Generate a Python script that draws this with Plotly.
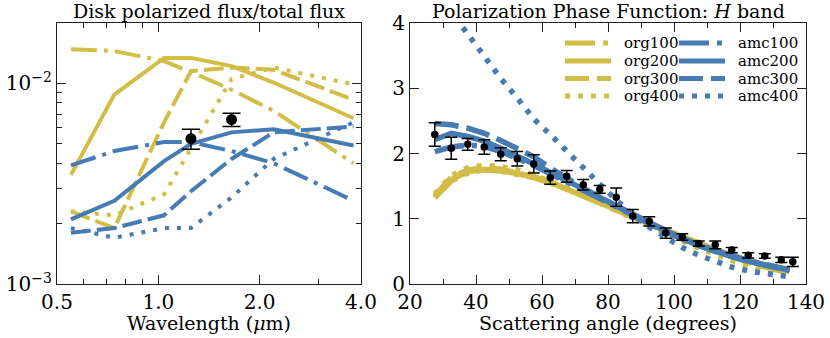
import numpy as np
import plotly.graph_objects as go
from plotly.subplots import make_subplots

# --- left panel: polarized / total flux vs wavelength ---
wave = [0.55, 0.74, 1.04, 1.25, 1.65, 2.2, 3.8]
flux_org100 = [0.0148, 0.0145, 0.0129, 0.0114, 0.0093, 0.0073, 0.0040]
flux_org200 = [0.0035, 0.0088, 0.0134, 0.0134, 0.0122, 0.0101, 0.0067]
flux_org300 = [0.0023, 0.0019, 0.0064, 0.0115, 0.0120, 0.0117, 0.0083]
flux_org400 = [0.0023, 0.0022, 0.0028, 0.0047, 0.0105, 0.0120, 0.0099]
flux_amc100 = [0.0039, 0.0046, 0.0051, 0.0051, 0.0046, 0.0040, 0.0026]
flux_amc200 = [0.0021, 0.0026, 0.0041, 0.0050, 0.0057, 0.0059, 0.0049]
flux_amc300 = [0.0018, 0.0019, 0.0022, 0.0029, 0.0042, 0.0057, 0.0061]
flux_amc400 = [0.0019, 0.0017, 0.0019, 0.0019, 0.0027, 0.0042, 0.0064]

obs_wave = [1.25, 1.65]
obs_flux = [0.0053, 0.0066]
obs_flux_err = [0.0006, 0.0005]

# --- right panel: polarization phase function, H band ---
angle = [27.5, 32.5, 37.5, 42.5, 47.5, 52.5, 57.5, 62.5, 67.5, 72.5, 77.5, 82.5,
         87.5, 92.5, 97.5, 102.5, 107.5, 112.5, 117.5, 122.5, 127.5, 132.5, 135]
pf_org100 = [1.32, 1.58, 1.70, 1.75, 1.73, 1.69, 1.63, 1.55, 1.46, 1.36, 1.25, 1.14,
             1.03, 0.93, 0.83, 0.72, 0.62, 0.53, 0.44, 0.36, 0.29, 0.23, 0.20]
pf_org200 = [1.34, 1.60, 1.72, 1.76, 1.74, 1.70, 1.64, 1.56, 1.46, 1.36, 1.25, 1.14,
             1.03, 0.93, 0.82, 0.71, 0.61, 0.52, 0.43, 0.35, 0.28, 0.22, 0.19]
pf_org300 = [1.36, 1.63, 1.75, 1.78, 1.76, 1.71, 1.64, 1.56, 1.46, 1.35, 1.24, 1.13,
             1.02, 0.92, 0.81, 0.70, 0.60, 0.50, 0.41, 0.33, 0.26, 0.20, 0.17]
pf_org400 = [1.38, 1.66, 1.78, 1.82, 1.80, 1.75, 1.67, 1.58, 1.47, 1.36, 1.24, 1.12,
             1.00, 0.89, 0.77, 0.66, 0.55, 0.45, 0.36, 0.28, 0.21, 0.16, 0.13]
pf_amc100 = [2.03, 2.10, 2.13, 2.11, 2.03, 1.93, 1.82, 1.69, 1.56, 1.44, 1.31, 1.18,
             1.05, 0.93, 0.81, 0.70, 0.60, 0.51, 0.43, 0.36, 0.30, 0.24, 0.22]
pf_amc200 = [2.21, 2.31, 2.26, 2.19, 2.08, 1.97, 1.84, 1.71, 1.58, 1.45, 1.32, 1.19,
             1.06, 0.94, 0.80, 0.69, 0.59, 0.50, 0.42, 0.35, 0.29, 0.23, 0.21]
pf_amc300 = [2.46, 2.44, 2.39, 2.31, 2.20, 2.08, 1.95, 1.78, 1.62, 1.47, 1.33, 1.19,
             1.05, 0.93, 0.80, 0.69, 0.59, 0.50, 0.42, 0.35, 0.29, 0.23, 0.21]
pf_amc400 = [4.60, 4.17, 3.83, 3.48, 3.15, 2.85, 2.53, 2.29, 2.03, 1.77, 1.53, 1.29,
             1.06, 0.87, 0.71, 0.56, 0.44, 0.34, 0.26, 0.20, 0.16, 0.13, 0.11]

obs_angle = [27.5, 32.5, 37.5, 42.5, 47.5, 52.5, 57.5, 62.5, 67.5, 72.5, 77.5, 82.5,
             87.5, 92.5, 97.5, 102.5, 107.5, 112.5, 117.5, 122.5, 127.5, 132.5, 136]
obs_pf = [2.29, 2.08, 2.14, 2.10, 1.99, 1.92, 1.84, 1.63, 1.65, 1.52, 1.45, 1.33,
          1.04, 0.96, 0.78, 0.72, 0.62, 0.60, 0.52, 0.44, 0.43, 0.37, 0.34]
obs_pf_err = [0.18, 0.17, 0.09, 0.11, 0.10, 0.11, 0.14, 0.10, 0.09, 0.08, 0.06, 0.14,
              0.10, 0.07, 0.08, 0.05, 0.04, 0.06, 0.04, 0.04, 0.035, 0.04, 0.07]

names = ["org100", "org200", "org300", "org400", "amc100", "amc200", "amc300", "amc400"]

YELLOW = "#d2bd47"
BLUE = "#467bb4"
AXC = "#222222"
FONT = "DejaVu Serif"

# dash patterns (left panel is drawn thinner than the right one)
dash_left = ["26px,7px,4px,7px", "solid", "20px,6px", "4px,8px"]
dash_right = ["30px,8px,5px,8px", "solid", "24px,8px", "5px,8px"]


def add_models(fig, x, series, col, width, dashes):
    for i, (name, y) in enumerate(zip(names, series)):
        color = YELLOW if name.startswith("org") else BLUE
        fig.add_trace(
            go.Scatter(x=x, y=y, mode="lines", name=name, showlegend=False,
                       line=dict(color=color, width=width, dash=dashes[i % 4])),
            row=1, col=col,
        )


def add_legend(fig):
    # two-column key in the upper right of the phase function panel
    W, H = 830, 338
    rows_y = [43, 61, 78.5, 96]
    for i, name in enumerate(names):
        c = i // 4
        r = i % 4
        x0 = [565, 679][c]
        color = YELLOW if c == 0 else BLUE
        py = 1 - rows_y[r] / H
        fig.add_shape(type="line", xref="paper", yref="paper",
                      x0=x0 / W, x1=(x0 + 46) / W, y0=py, y1=py,
                      line=dict(color=color, width=5, dash=dash_right[r]))
        fig.add_annotation(x=(x0 + 57) / W, y=py, xref="paper", yref="paper",
                           text=name, showarrow=False, xanchor="left", yanchor="middle",
                           font=dict(family=FONT, size=15, color="black"))


def main():
    fig = make_subplots(rows=1, cols=2)

    add_models(fig, wave, [flux_org100, flux_org200, flux_org300, flux_org400,
                           flux_amc100, flux_amc200, flux_amc300, flux_amc400], 1, 4, dash_left)
    fig.add_trace(
        go.Scatter(x=obs_wave, y=obs_flux, mode="markers", showlegend=False,
                   marker=dict(color="black", size=11),
                   error_y=dict(type="data", array=obs_flux_err, color="black",
                                thickness=1.5, width=9)),
        row=1, col=1,
    )

    add_models(fig, angle, [pf_org100, pf_org200, pf_org300, pf_org400,
                            pf_amc100, pf_amc200, pf_amc300, pf_amc400], 2, 5.5, dash_right)
    fig.add_trace(
        go.Scatter(x=obs_angle, y=obs_pf, mode="markers", showlegend=False,
                   marker=dict(color="black", size=7.5),
                   error_y=dict(type="data", array=obs_pf_err, color="black",
                                thickness=1.5, width=6)),
        row=1, col=2,
    )

    axis_style = dict(showline=True, linecolor=AXC, linewidth=1.2, mirror="allticks",
                      ticks="inside", ticklen=9, tickwidth=1.2, tickcolor=AXC,
                      showgrid=False, zeroline=False, automargin=False,
                      tickfont=dict(family=FONT, size=20, color="black"))
    minor_style = dict(ticks="inside", ticklen=4.5, tickwidth=1.1, tickcolor=AXC, showgrid=False)

    fig.update_xaxes(axis_style)
    fig.update_yaxes(axis_style)

    fig.update_xaxes(type="log", range=[np.log10(0.5), np.log10(4.0)],
                     tickvals=[0.5, 1, 2, 4], ticktext=["0.5", "1.0", "2.0", "4.0"],
                     minor=dict(tickvals=[0.6, 0.7, 0.8, 0.9, 3], **minor_style),
                     domain=[57 / 830, 361 / 830], row=1, col=1)
    fig.update_yaxes(type="log", range=[-3, np.log10(0.02)],
                     tickvals=[1e-3, 1e-2], ticktext=["10<sup>−3</sup>", "10<sup>−2</sup>"],
                     minor=dict(tickvals=[k * 1e-3 for k in range(2, 10)] + [0.02], **minor_style),
                     domain=[54 / 338, 315 / 338], row=1, col=1)
    fig.update_xaxes(range=[20, 140], tick0=20, dtick=20,
                     minor=dict(dtick=10, **minor_style),
                     domain=[410 / 830, 806 / 830], row=1, col=2)
    fig.update_yaxes(range=[0, 4], tick0=0, dtick=1,
                     domain=[54 / 338, 315 / 338], row=1, col=2)

    # panel titles and axis labels
    labels = [
        (209, 11, "Disk polarized flux/total flux"),
        (608, 11, "Polarization Phase Function: <i>H</i> band"),
        (209, 323, "Wavelength (<i>μ</i>m)"),
        (608, 323, "Scattering angle (degrees)"),
    ]
    for x, y, text in labels:
        fig.add_annotation(x=x / 830, y=1 - y / 338, xref="paper", yref="paper",
                           text=text, showarrow=False, xanchor="center", yanchor="middle",
                           font=dict(family=FONT, size=19, color="black"))

    add_legend(fig)

    fig.update_layout(
        width=830, height=338,
        margin=dict(l=0, r=0, t=0, b=0, pad=0),
        paper_bgcolor="white", plot_bgcolor="white",
        font=dict(family=FONT, color="black"),
        showlegend=False,
    )

    # drop the default page margin so the figure sits at the window's corner
    fig.write_html("out.html", config={"displayModeBar": False},
                   post_script="document.body.style.margin='0px';document.body.style.overflow='hidden';")


if __name__ == "__main__":
    main()
